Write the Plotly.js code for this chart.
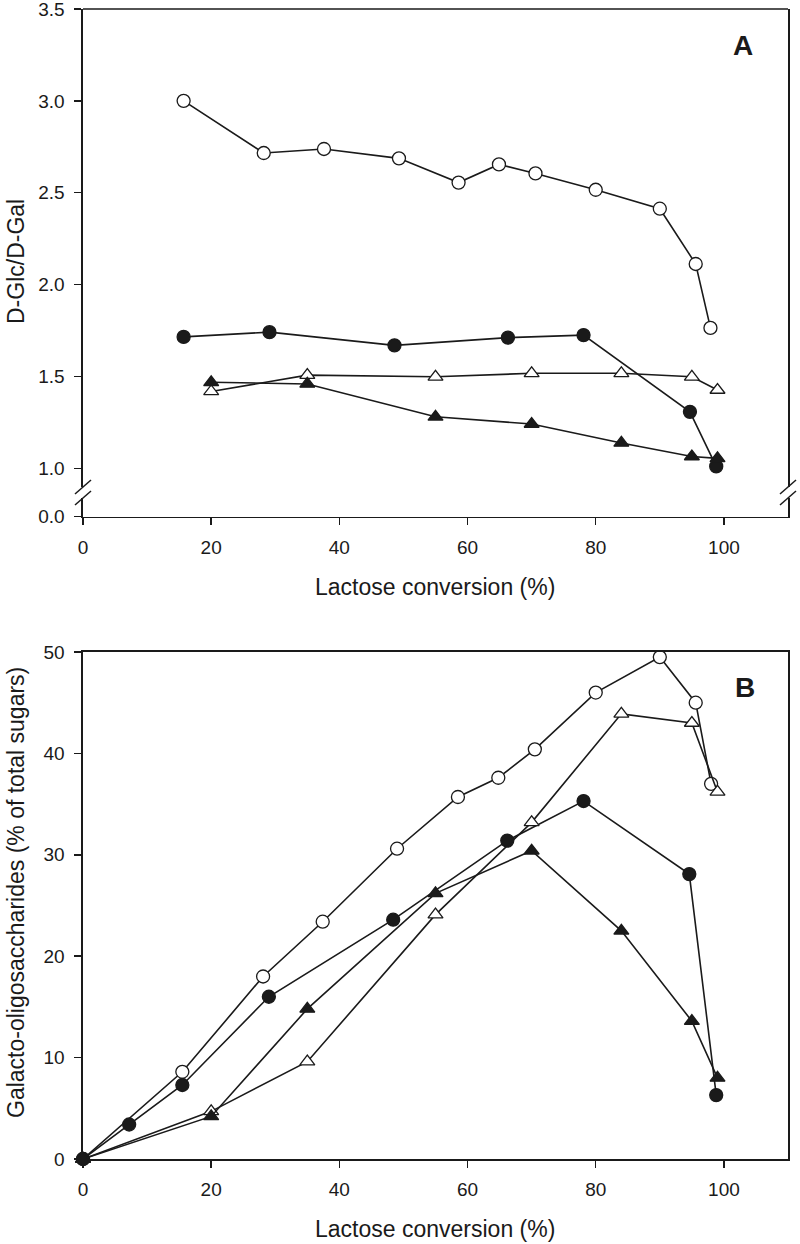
<!DOCTYPE html>
<html>
<head>
<meta charset="utf-8">
<script src="https://cdn.plot.ly/plotly-3.0.1.min.js"></script>
<style>html,body{margin:0;padding:0;background:#fff;}#chart{width:800px;height:1244px;}</style>
</head>
<body>
<div id="chart"></div>
<script>
// ---------- Panel A data: D-Glc/D-Gal ratio vs lactose conversion ----------
const xOpenCircA   = [15.7, 28.2, 37.6, 49.3, 58.6, 64.9, 70.6, 80.0, 90.0, 95.6, 97.9];
const yOpenCircA   = [3.00, 2.716, 2.738, 2.687, 2.555, 2.654, 2.605, 2.516, 2.413, 2.112, 1.764];
const xFilledCircA = [15.7, 29.1, 48.6, 66.3, 78.1, 94.7, 98.8];
const yFilledCircA = [1.715, 1.741, 1.669, 1.711, 1.725, 1.307, 1.010];
const xTriA        = [20, 35, 55, 70, 84, 95, 99];
const yOpenTriA    = [1.418, 1.507, 1.498, 1.517, 1.517, 1.498, 1.426];
const yFilledTriA  = [1.468, 1.459, 1.280, 1.241, 1.138, 1.064, 1.054];

// ---------- Panel B data: GOS (% of total sugars) vs lactose conversion ----------
const xOpenCircB   = [0, 15.5, 28.1, 37.4, 49.0, 58.5, 64.8, 70.5, 80.0, 90.0, 95.6, 98.0];
const yOpenCircB   = [0, 8.6, 18.0, 23.4, 30.6, 35.7, 37.6, 40.4, 46.0, 49.5, 45.0, 37.0];
const xFilledCircB = [0, 7.2, 15.5, 29.0, 48.4, 66.2, 78.1, 94.6, 98.8];
const yFilledCircB = [0, 3.4, 7.3, 16.0, 23.6, 31.4, 35.3, 28.1, 6.3];
const xTriB        = [0, 20, 35, 55, 70, 84, 95, 99];
const yOpenTriB    = [0, 4.7, 9.6, 24.1, 33.2, 43.9, 43.0, 36.2];
const yFilledTriB  = [0, 4.2, 14.8, 26.2, 30.4, 22.5, 13.6, 8.0];

// ---------- Text ----------
const xTitle  = "Lactose conversion (%)";
const yTitleA = "D-Glc/D-Gal";
const yTitleB = "Galacto-oligosaccharides (% of total sugars)";
const panelLabels = ["A", "B"];

// ---------- helpers (layout only) ----------
const W = 800, H = 1244;
const px = v => v / W;
const py = v => 1 - v / H;
const FONT = "Liberation Sans, Arial, sans-serif";
const INK = "#1a1a1a";

function series(x, y, symbol, fill, xa, ya) {
  return {
    x: x, y: y, xaxis: xa, yaxis: ya, type: "scatter", mode: "lines+markers",
    cliponaxis: false, showlegend: false, hoverinfo: "x+y",
    line: {color: INK, width: 1.6},
    marker: {symbol: symbol, size: 13, color: fill, line: {color: INK, width: 1.3}}
  };
}

const traces = [
  series(xOpenCircA, yOpenCircA, "circle", "#ffffff", "x", "y"),
  series(xFilledCircA, yFilledCircA, "circle", INK, "x", "y"),
  series(xTriA, yOpenTriA, "triangle-up", "#ffffff", "x", "y"),
  series(xTriA, yFilledTriA, "triangle-up", INK, "x", "y"),
  // empty trace so the lower (broken) part of panel A's y axis is built
  {x: [], y: [], xaxis: "x", yaxis: "y3", type: "scatter", mode: "markers", showlegend: false, hoverinfo: "skip"},
  series(xOpenCircB, yOpenCircB, "circle", "#ffffff", "x2", "y2"),
  series(xFilledCircB, yFilledCircB, "circle", INK, "x2", "y2"),
  series(xTriB, yOpenTriB, "triangle-up", "#ffffff", "x2", "y2"),
  series(xTriB, yFilledTriB, "triangle-up", INK, "x2", "y2")
];

const tickFont = {family: FONT, size: 19, color: INK};
const baseAxis = {
  showgrid: false, zeroline: false, showline: true, linecolor: INK, linewidth: 1.6,
  ticks: "outside", ticklen: 7, tickwidth: 1.5, tickcolor: INK, tickfont: tickFont,
  ticklabeloverflow: "allow", fixedrange: true
};

// Geometry (pixels)
const xL = 83, xR = 788;
const aTop = 9, aBreakTop = 487, aBreakBot = 498, aBot = 516.5;
const bTop = 652, bBot = 1159;

const layout = {
  width: W, height: H,
  margin: {l: 0, r: 0, t: 0, b: 0},
  paper_bgcolor: "#ffffff", plot_bgcolor: "#ffffff",
  font: {family: FONT, color: INK},
  xaxis: Object.assign({}, baseAxis, {
    domain: [px(xL), px(xR)], range: [0, 110], tick0: 0, dtick: 20,
    anchor: "y3", ticklabelstandoff: 6
  }),
  yaxis: Object.assign({}, baseAxis, {
    domain: [py(aBreakTop), py(aTop)], range: [0.898, 3.5], tick0: 0, dtick: 0.5,
    tickformat: ".1f", anchor: "x", mirror: true, ticklabelstandoff: 6
  }),
  yaxis3: Object.assign({}, baseAxis, {
    domain: [py(aBot), py(aBreakBot)], range: [0, 0.1008], tick0: 0, dtick: 0.5,
    tickformat: ".1f", anchor: "x", mirror: true, ticklabelstandoff: 6
  }),
  xaxis2: Object.assign({}, baseAxis, {
    domain: [px(xL), px(xR)], range: [0, 110], tick0: 0, dtick: 20,
    anchor: "y2", mirror: true, ticklabelstandoff: 6
  }),
  yaxis2: Object.assign({}, baseAxis, {
    domain: [py(bBot), py(bTop)], range: [0, 50], tick0: 0, dtick: 10,
    anchor: "x2", mirror: true, ticklabelstandoff: 6
  }),
  shapes: [
    // top border of panel A
    {type: "line", xref: "paper", yref: "paper", x0: px(xL), x1: px(xR), y0: py(aTop), y1: py(aTop),
     line: {color: INK, width: 1.6}},
    // axis-break marks, left
    {type: "line", xref: "paper", yref: "paper", x0: px(xL - 8), y0: py(aBreakTop + 7), x1: px(xL + 8), y1: py(aBreakTop - 7),
     line: {color: INK, width: 1.5}},
    {type: "line", xref: "paper", yref: "paper", x0: px(xL - 8), y0: py(aBreakBot + 7), x1: px(xL + 8), y1: py(aBreakBot - 7),
     line: {color: INK, width: 1.5}},
    // axis-break marks, right
    {type: "line", xref: "paper", yref: "paper", x0: px(xR - 8), y0: py(aBreakTop + 7), x1: px(xR + 8), y1: py(aBreakTop - 7),
     line: {color: INK, width: 1.5}},
    {type: "line", xref: "paper", yref: "paper", x0: px(xR - 8), y0: py(aBreakBot + 7), x1: px(xR + 8), y1: py(aBreakBot - 7),
     line: {color: INK, width: 1.5}}
  ],
  annotations: [
    {text: "<b>" + panelLabels[0] + "</b>", xref: "paper", yref: "paper", x: px(743), y: py(46),
     xanchor: "center", yanchor: "middle", showarrow: false, font: {family: FONT, size: 28, color: INK}},
    {text: "<b>" + panelLabels[1] + "</b>", xref: "paper", yref: "paper", x: px(745), y: py(687),
     xanchor: "center", yanchor: "middle", showarrow: false, font: {family: FONT, size: 28, color: INK}},
    {text: yTitleA, xref: "paper", yref: "paper", x: px(16), y: py(262), textangle: -90,
     xanchor: "center", yanchor: "middle", showarrow: false, font: {family: FONT, size: 23, color: INK}},
    {text: yTitleB, xref: "paper", yref: "paper", x: px(16), y: py(893), textangle: -90,
     xanchor: "center", yanchor: "middle", showarrow: false, font: {family: FONT, size: 23, color: INK}},
    {text: xTitle, xref: "paper", yref: "paper", x: px(435), y: py(587),
     xanchor: "center", yanchor: "middle", showarrow: false, font: {family: FONT, size: 23, color: INK}},
    {text: xTitle, xref: "paper", yref: "paper", x: px(435), y: py(1229),
     xanchor: "center", yanchor: "middle", showarrow: false, font: {family: FONT, size: 23, color: INK}}
  ]
};

Plotly.newPlot("chart", traces, layout, {staticPlot: true, displayModeBar: false});
</script>
</body>
</html>
